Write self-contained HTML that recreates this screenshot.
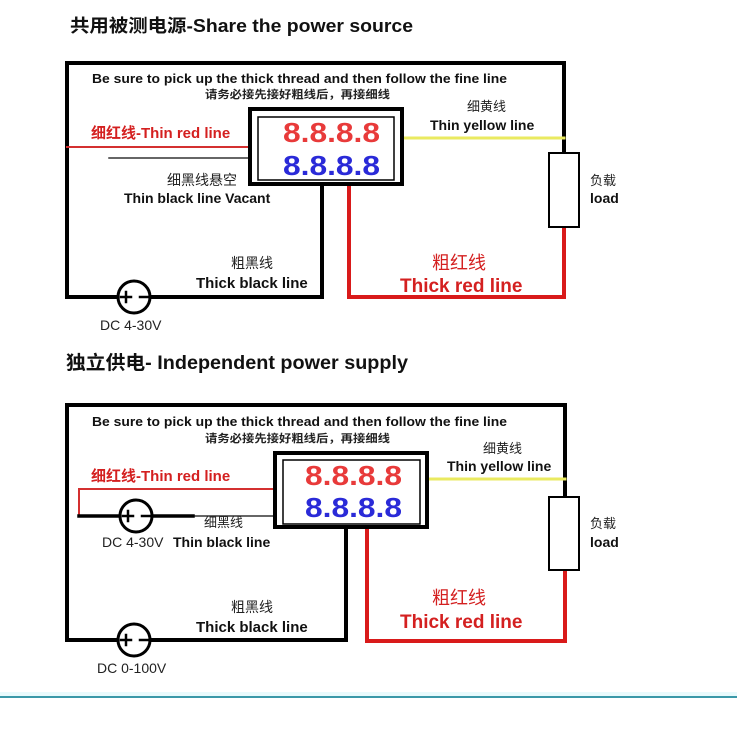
<!DOCTYPE html>
<html><head><meta charset="utf-8"><style>
html,body{margin:0;padding:0;background:#fff;}
svg{display:block;}
text{font-family:"Liberation Sans","Noto Sans CJK SC",sans-serif;}
</style></head><body>
<svg width="737" height="737" viewBox="0 0 737 737" xmlns="http://www.w3.org/2000/svg">
<rect width="737" height="737" fill="#fff"/>
<!-- Titles -->
<text x="70" y="32" font-size="18" font-weight="bold" fill="#111" textLength="343" lengthAdjust="spacingAndGlyphs">共用被测电源-Share the power source</text>
<text x="66" y="369" font-size="19" font-weight="bold" fill="#111" textLength="342" lengthAdjust="spacingAndGlyphs">独立供电- Independent power supply</text>

<!-- ===== Diagram 1 ===== -->
<g fill="none" stroke-linecap="square">
  <polyline points="118,297 67,297 67,63 564,63 564,153" stroke="#000" stroke-width="4"/>
  <polyline points="150,297 322,297 322,186" stroke="#000" stroke-width="4"/>
  <polyline points="349,186 349,297 564,297 564,227" stroke="#d91a1a" stroke-width="4"/>
  <line x1="67" y1="147" x2="248" y2="147" stroke="#d43030" stroke-width="2"/>
  <line x1="109" y1="158" x2="248" y2="158" stroke="#333" stroke-width="1.5"/>
  <line x1="404" y1="138" x2="564" y2="138" stroke="#eaea60" stroke-width="3"/>
  <rect x="549" y="153" width="30" height="74" stroke="#000" stroke-width="2" fill="#fff"/>
  <rect x="250" y="109" width="152" height="75" stroke="#000" stroke-width="4" fill="#fff"/>
  <rect x="258" y="117" width="136" height="63" stroke="#000" stroke-width="1.5"/>
  <circle cx="134" cy="297" r="16" stroke="#000" stroke-width="3" fill="#fff"/>
  <line x1="121" y1="297" x2="131" y2="297" stroke="#000" stroke-width="2.5"/>
  <line x1="126" y1="292" x2="126" y2="302" stroke="#000" stroke-width="2.5"/>
  <line x1="140" y1="297" x2="150" y2="297" stroke="#000" stroke-width="2.5"/>
</g>
<text x="283" y="142" font-family="Liberation Mono,monospace" font-size="28" font-weight="bold" fill="#e83a3a" textLength="97" lengthAdjust="spacingAndGlyphs">8.8.8.8</text>
<text x="283" y="175" font-family="Liberation Mono,monospace" font-size="28" font-weight="bold" fill="#2a2ad8" textLength="97" lengthAdjust="spacingAndGlyphs">8.8.8.8</text>
<text x="92" y="83" font-size="13" font-weight="bold" fill="#111" textLength="415" lengthAdjust="spacingAndGlyphs">Be sure to pick up the thick thread and then follow the fine line</text>
<text x="205" y="98" font-size="11" font-weight="bold" fill="#222" textLength="185" lengthAdjust="spacingAndGlyphs">请务必接先接好粗线后，再接细线</text>
<text x="91" y="138" font-size="15" font-weight="bold" fill="#d42020">细红线-Thin red line</text>
<text x="467" y="111" font-size="13" fill="#222">细黄线</text>
<text x="430" y="130" font-size="14" font-weight="bold" fill="#111">Thin yellow line</text>
<text x="590" y="185" font-size="13" fill="#222">负载</text>
<text x="590" y="203" font-size="14" font-weight="bold" fill="#111">load</text>
<text x="167" y="185" font-size="14" fill="#222">细黑线悬空</text>
<text x="124" y="203" font-size="14" font-weight="bold" fill="#111">Thin black line Vacant</text>
<text x="231" y="268" font-size="14" fill="#222">粗黑线</text>
<text x="196" y="288" font-size="15" font-weight="bold" fill="#111">Thick black line</text>
<text x="432" y="269" font-size="18" fill="#d42020">粗红线</text>
<text x="400" y="292" font-size="19" font-weight="bold" fill="#d42020">Thick red line</text>
<text x="100" y="330" font-size="14" fill="#222">DC 4-30V</text>

<!-- ===== Diagram 2 ===== -->
<g fill="none" stroke-linecap="square">
  <polyline points="118,640 67,640 67,405 565,405 565,497" stroke="#000" stroke-width="4"/>
  <polyline points="150,640 346,640 346,529" stroke="#000" stroke-width="4"/>
  <polyline points="367,529 367,641 565,641 565,570" stroke="#d91a1a" stroke-width="4"/>
  <polyline points="273,489 79,489 79,516" stroke="#d43030" stroke-width="2"/>
  <line x1="79" y1="516" x2="273" y2="516" stroke="#333" stroke-width="1.5"/>
  <line x1="79" y1="516" x2="120" y2="516" stroke="#000" stroke-width="3.5"/>
  <line x1="150" y1="516" x2="193" y2="516" stroke="#000" stroke-width="3.5"/>
  <line x1="429" y1="479" x2="565" y2="479" stroke="#eaea60" stroke-width="3"/>
  <rect x="549" y="497" width="30" height="73" stroke="#000" stroke-width="2" fill="#fff"/>
  <rect x="275" y="453" width="152" height="74" stroke="#000" stroke-width="4" fill="#fff"/>
  <rect x="283" y="460" width="137" height="64" stroke="#000" stroke-width="1.5"/>
  <circle cx="136" cy="516" r="16" stroke="#000" stroke-width="3" fill="#fff"/>
  <line x1="123" y1="516" x2="133" y2="516" stroke="#000" stroke-width="2.5"/>
  <line x1="128" y1="511" x2="128" y2="521" stroke="#000" stroke-width="2.5"/>
  <line x1="142" y1="516" x2="152" y2="516" stroke="#000" stroke-width="2.5"/>
  <circle cx="134" cy="640" r="16" stroke="#000" stroke-width="3" fill="#fff"/>
  <line x1="121" y1="640" x2="131" y2="640" stroke="#000" stroke-width="2.5"/>
  <line x1="126" y1="635" x2="126" y2="645" stroke="#000" stroke-width="2.5"/>
  <line x1="140" y1="640" x2="150" y2="640" stroke="#000" stroke-width="2.5"/>
</g>
<text x="305" y="485" font-family="Liberation Mono,monospace" font-size="28" font-weight="bold" fill="#e83a3a" textLength="97" lengthAdjust="spacingAndGlyphs">8.8.8.8</text>
<text x="305" y="517" font-family="Liberation Mono,monospace" font-size="28" font-weight="bold" fill="#2a2ad8" textLength="97" lengthAdjust="spacingAndGlyphs">8.8.8.8</text>
<text x="92" y="426" font-size="13" font-weight="bold" fill="#111" textLength="415" lengthAdjust="spacingAndGlyphs">Be sure to pick up the thick thread and then follow the fine line</text>
<text x="205" y="442" font-size="11" font-weight="bold" fill="#222" textLength="185" lengthAdjust="spacingAndGlyphs">请务必接先接好粗线后，再接细线</text>
<text x="91" y="481" font-size="15" font-weight="bold" fill="#d42020">细红线-Thin red line</text>
<text x="483" y="453" font-size="13" fill="#222">细黄线</text>
<text x="447" y="471" font-size="14" font-weight="bold" fill="#111">Thin yellow line</text>
<text x="590" y="528" font-size="13" fill="#222">负载</text>
<text x="590" y="547" font-size="14" font-weight="bold" fill="#111">load</text>
<text x="204" y="527" font-size="13" fill="#222">细黑线</text>
<text x="102" y="547" font-size="14" fill="#222">DC 4-30V</text>
<text x="173" y="547" font-size="14" font-weight="bold" fill="#111">Thin black line</text>
<text x="231" y="612" font-size="14" fill="#222">粗黑线</text>
<text x="196" y="632" font-size="15" font-weight="bold" fill="#111">Thick black line</text>
<text x="432" y="604" font-size="18" fill="#d42020">粗红线</text>
<text x="400" y="628" font-size="19" font-weight="bold" fill="#d42020">Thick red line</text>
<text x="97" y="673" font-size="14" fill="#222">DC 0-100V</text>

<!-- bottom cyan rule -->
<rect x="0" y="692" width="737" height="4" fill="#e8fafc"/>
<rect x="0" y="696" width="737" height="2" fill="#3a98a8"/>
</svg>
</body></html>
